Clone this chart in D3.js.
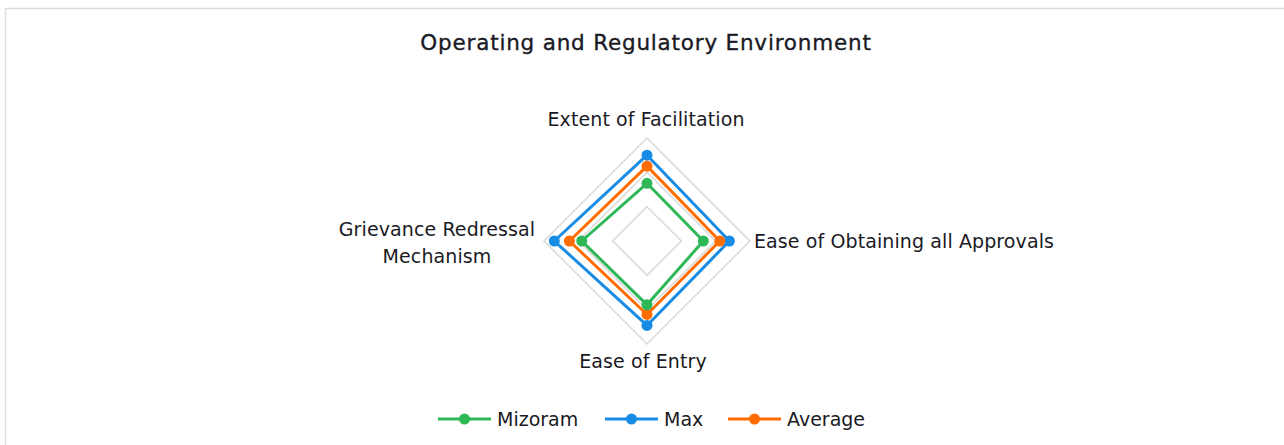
<!DOCTYPE html>
<html>
<head>
<meta charset="utf-8">
<script src="https://cdn.jsdelivr.net/npm/d3@7"></script>
<style>
  body { margin: 0; background: #fff; }
  text { font-family: "DejaVu Sans", sans-serif; fill: #1a1a24; }
</style>
</head>
<body>
<div id="container"></div>
<script>
/* CONSTANTS AND GLOBALS */
const width = 1284,
    height = 445,
    cx = 647, cy = 241,
    radius = 103;

// DATA
const axes = ["Extent of Facilitation", "Ease of Obtaining all Approvals", "Ease of Entry", "Grievance Redressal Mechanism"];
const mizoram = [0.84, 0.82, 0.93, 0.95];
const maxVals = [1.25, 1.20, 1.23, 1.35];
const average = [1.09, 1.06, 1.07, 1.13];
const gridTicks = [0.5, 1.0, 1.5];

const seriesList = [
    { name: "Mizoram", values: mizoram, color: "#2db757" },
    { name: "Max", values: maxVals, color: "#188ce5" },
    { name: "Average", values: average, color: "#ff6d00" }
];
// draw order: blue under orange under green
const drawOrder = [seriesList[1], seriesList[2], seriesList[0]];

// SVG
const svg = d3.select("#container")
    .append("svg")
    .attr("width", width)
    .attr("height", height);

// frame
svg.append("rect")
    .attr("x", 5.5).attr("y", 8.5)
    .attr("width", 1300).attr("height", 460)
    .attr("fill", "none")
    .attr("stroke", "#dcdce0")
    .attr("stroke-width", 1.5);

// TITLE
svg.append("text")
    .attr("x", cx - 1).attr("y", 50)
    .attr("text-anchor", "middle")
    .style("font-size", "21.5px")
    .style("letter-spacing", "0.8px")
    .style("stroke", "#1a1a24").style("stroke-width", 0.35)
    .text("Operating and Regulatory Environment");

// SCALES
const r = d3.scaleLinear().domain([0, 1.5]).range([0, radius]);
const angle = d3.scalePoint().domain(d3.range(axes.length)).range([0, 2 * Math.PI * (axes.length - 1) / axes.length]);
const pt = (i, v) => [cx + r(v) * Math.sin(angle(i)), cy - r(v) * Math.cos(angle(i))];

const lineGen = d3.line().curve(d3.curveLinearClosed);

// GRID
svg.selectAll("path.grid")
    .data(gridTicks)
    .join("path")
    .attr("class", "grid")
    .attr("d", t => lineGen(axes.map((a, i) => pt(i, t))))
    .attr("fill", "none")
    .attr("stroke", "#d9d9d9")
    .attr("stroke-width", 1.5);

// AXIS LABELS
const labelG = svg.append("g").style("font-size", "19px").style("letter-spacing", "0.1px");
labelG.append("text").attr("x", cx - 1).attr("y", 126).attr("text-anchor", "middle").text(axes[0]);
labelG.append("text").attr("x", 754).attr("y", 248).attr("text-anchor", "start").text(axes[1]);
labelG.append("text").attr("x", cx - 4).attr("y", 368).attr("text-anchor", "middle").text(axes[2]);
const grv = labelG.append("text").attr("text-anchor", "middle");
grv.append("tspan").attr("x", 437).attr("y", 236).text("Grievance Redressal");
grv.append("tspan").attr("x", 437).attr("y", 263).text("Mechanism");

// SERIES
const seriesG = svg.selectAll("g.series")
    .data(drawOrder)
    .join("g")
    .attr("class", "series");

seriesG.append("path")
    .attr("d", s => lineGen(s.values.map((v, i) => pt(i, v))))
    .attr("fill", "none")
    .attr("stroke", s => s.color)
    .attr("stroke-width", 3)
    .attr("stroke-linejoin", "round");

seriesG.selectAll("circle")
    .data(s => s.values.map((v, i) => ({ p: pt(i, v), color: s.color })))
    .join("circle")
    .attr("cx", d => d.p[0])
    .attr("cy", d => d.p[1])
    .attr("r", 5.5)
    .attr("fill", d => d.color);

// LEGEND
const legendX = [438, 605, 728];
const legend = svg.selectAll("g.legend")
    .data(seriesList)
    .join("g")
    .attr("class", "legend")
    .attr("transform", (d, i) => `translate(${legendX[i]}, 419)`);

legend.append("line")
    .attr("x1", 0).attr("x2", 53)
    .attr("stroke", d => d.color)
    .attr("stroke-width", 3);
legend.append("circle")
    .attr("cx", 26.5).attr("r", 5.5)
    .attr("fill", d => d.color);
legend.append("text")
    .attr("x", 59).attr("y", 7)
    .style("font-size", "19px")
    .text(d => d.name);
</script>
</body>
</html>
